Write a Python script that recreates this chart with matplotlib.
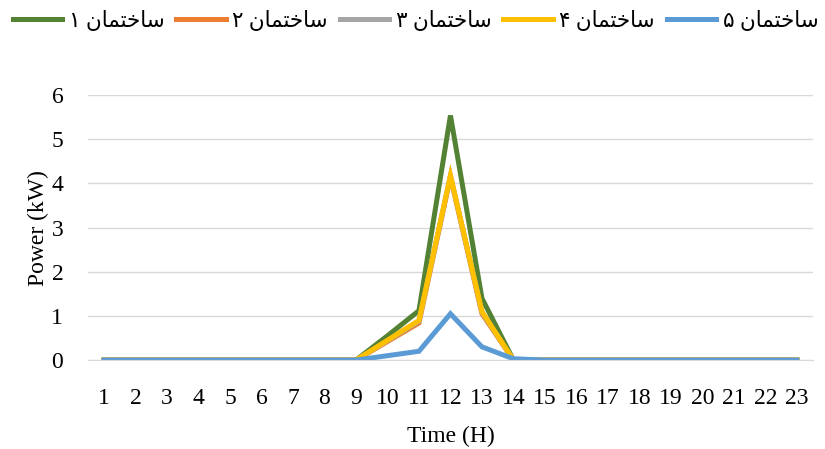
import numpy as np
import matplotlib.pyplot as plt
from matplotlib.lines import Line2D

hours = list(range(1, 24))

# power per building (kW)
b1 = [0, 0, 0, 0, 0, 0, 0, 0, 0, 0.55, 1.12, 5.54, 1.4, 0, 0, 0, 0, 0, 0, 0, 0, 0, 0]
b2 = [0, 0, 0, 0, 0, 0, 0, 0, 0, 0.42, 0.84, 4.15, 1.05, 0, 0, 0, 0, 0, 0, 0, 0, 0, 0]
b3 = [0, 0, 0, 0, 0, 0, 0, 0, 0, 0.44, 0.88, 4.18, 1.08, 0, 0, 0, 0, 0, 0, 0, 0, 0, 0]
b4 = [0, 0, 0, 0, 0, 0, 0, 0, 0, 0.45, 0.9, 4.18, 1.1, 0, 0, 0, 0, 0, 0, 0, 0, 0, 0]
b5 = [0, 0, 0, 0, 0, 0, 0, 0, 0, 0.1, 0.2, 1.05, 0.3, 0.03, 0, 0, 0, 0, 0, 0, 0, 0, 0]

# "ساختمان n" written in visual order with presentation forms (matplotlib does no shaping)
word = "\uFEE5\uFE8E\uFEE4\uFE98\uFEA7\uFE8E\uFEB3"
digits = ["\u06F1", "\u06F2", "\u06F3", "\u06F4", "\u06F5"]
labels = [d + " " + word for d in digits]

colors = ["#548235", "#ED7D31", "#A5A5A5", "#FFC000", "#5B9BD5"]

plt.rcParams['font.family'] = ['Liberation Serif', 'DejaVu Sans']

fig = plt.figure(figsize=(8.25, 4.49), dpi=100)
ax = fig.add_axes([0.107, 0.198, 0.878, 0.59])

for ys, c in zip([b1, b2, b3, b4, b5], colors):
    ax.plot(hours, ys, color=c, lw=3.6, solid_joinstyle='miter')

ax.set_xlim(0.5, 23.5)
ax.set_ylim(0, 6)
ax.set_xticks(hours)
ax.set_yticks(range(0, 7))
ax.grid(axis='y', color='#D9D9D9', lw=1)
ax.set_axisbelow(True)
for s in ['top', 'right', 'left']:
    ax.spines[s].set_visible(False)
ax.spines['bottom'].set_color('#D9D9D9')
ax.tick_params(length=0, labelsize=17)
ax.tick_params(axis='x', pad=20)
ax.tick_params(axis='y', pad=18)
ax.set_xlabel('Time (H)', fontsize=17, labelpad=12)
ax.set_ylabel('Power (kW)', fontsize=17, labelpad=2)

handles = [Line2D([], [], color=c, lw=3.6) for c in colors]
fig.legend(handles, labels, loc='upper left', bbox_to_anchor=(0.0, 1.005), ncol=5,
           frameon=False, fontsize=15.5, handlelength=2.3, handletextpad=0.3,
           columnspacing=0.55, borderaxespad=0.2)

fig.savefig('out.png', dpi=100)
